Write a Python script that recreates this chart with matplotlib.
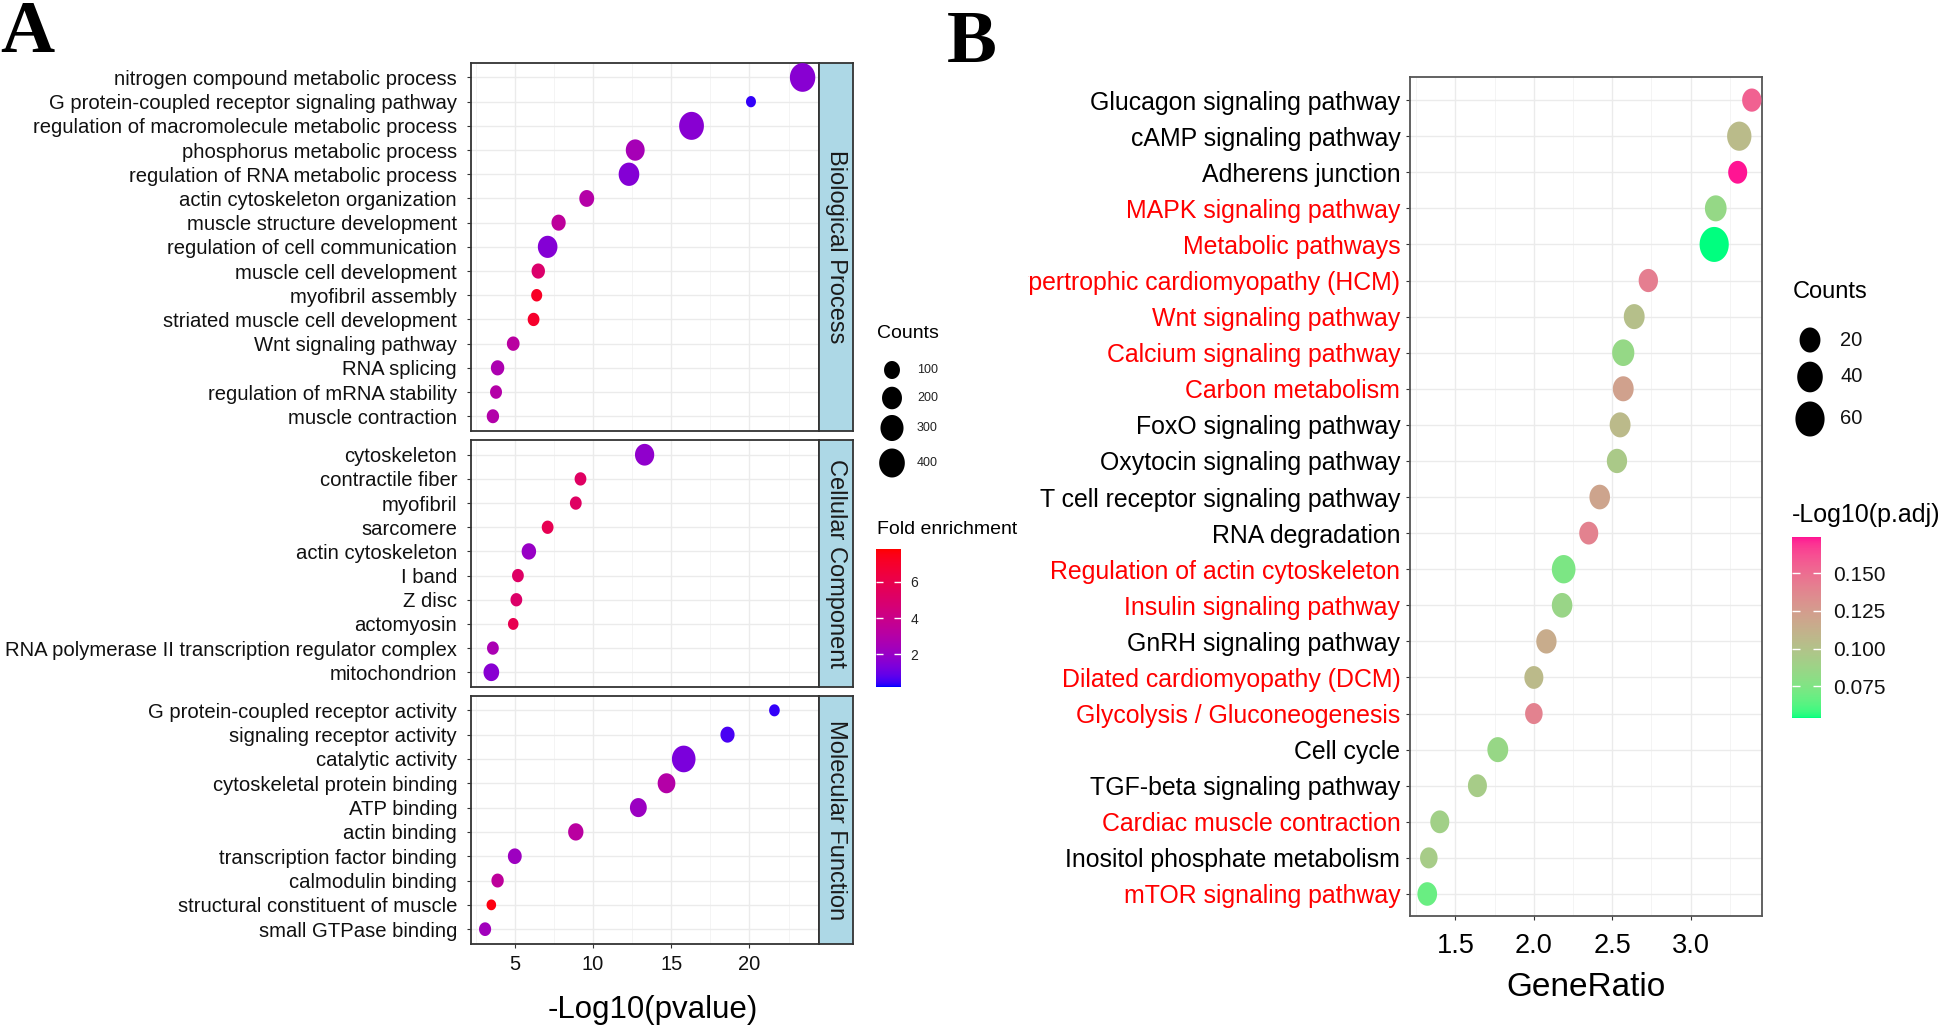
import numpy as np
import matplotlib
matplotlib.use("Agg")
import matplotlib.pyplot as plt
import matplotlib.cm as cm
from matplotlib import font_manager as fm
from matplotlib.colors import ListedColormap, Normalize
from matplotlib.path import Path
from matplotlib.transforms import Bbox, TransformedBbox

# ---------------- Data: panel A (GO enrichment) ----------------
bp_terms = ["nitrogen compound metabolic process", "G protein-coupled receptor signaling pathway",
            "regulation of macromolecule metabolic process", "phosphorus metabolic process",
            "regulation of RNA metabolic process", "actin cytoskeleton organization",
            "muscle structure development", "regulation of cell communication",
            "muscle cell development", "myofibril assembly", "striated muscle cell development",
            "Wnt signaling pathway", "RNA splicing", "regulation of mRNA stability", "muscle contraction"]
bp_logp = [23.4, 20.1, 16.3, 12.7, 12.3, 9.6, 7.8, 7.1, 6.5, 6.4, 6.2, 4.9, 3.9, 3.8, 3.6]
bp_counts = [390, 15, 365, 170, 220, 80, 68, 190, 55, 25, 33, 45, 55, 35, 40]
bp_fold = [1.6, 0.35, 1.6, 2.5, 1.5, 3.0, 3.4, 1.5, 5.0, 7.2, 7.0, 3.2, 2.7, 3.0, 2.9]

cc_terms = ["cytoskeleton", "contractile fiber", "myofibril", "sarcomere", "actin cytoskeleton",
            "I band", "Z disc", "actomyosin", "RNA polymerase II transcription regulator complex",
            "mitochondrion"]
cc_logp = [13.3, 9.2, 8.9, 7.1, 5.9, 5.2, 5.1, 4.9, 3.6, 3.5]
cc_counts = [180, 33, 33, 33, 72, 33, 33, 20, 33, 95]
cc_fold = [1.8, 5.3, 5.3, 5.8, 2.0, 5.2, 5.1, 5.9, 2.6, 1.6]

mf_terms = ["G protein-coupled receptor activity", "signaling receptor activity", "catalytic activity",
            "cytoskeletal protein binding", "ATP binding", "actin binding",
            "transcription factor binding", "calmodulin binding",
            "structural constituent of muscle", "small GTPase binding"]
mf_logp = [21.6, 18.6, 15.8, 14.7, 12.9, 8.9, 5.0, 3.9, 3.5, 3.1]
mf_counts = [21, 67, 320, 140, 120, 88, 62, 40, 12, 37]
mf_fold = [0.35, 0.55, 1.3, 3.0, 2.1, 3.2, 2.2, 3.4, 7.6, 2.3]

go_categories = ["Biological Process", "Cellular Component", "Molecular Function"]
count_breaks_a = [100, 200, 300, 400]
fold_ticks = [2, 4, 6]
pvalue_ticks = [5, 10, 15, 20]

# ---------------- Data: panel B (KEGG enrichment) ----------------
kegg_terms = ["Glucagon signaling pathway", "cAMP signaling pathway", "Adherens junction",
              "MAPK signaling pathway", "Metabolic pathways", "Hypertrophic cardiomyopathy (HCM)",
              "Wnt signaling pathway", "Calcium signaling pathway", "Carbon metabolism",
              "FoxO signaling pathway", "Oxytocin signaling pathway", "T cell receptor signaling pathway",
              "RNA degradation", "Regulation of actin cytoskeleton", "Insulin signaling pathway",
              "GnRH signaling pathway", "Dilated cardiomyopathy (DCM)", "Glycolysis / Gluconeogenesis",
              "Cell cycle", "TGF-beta signaling pathway", "Cardiac muscle contraction",
              "Inositol phosphate metabolism", "mTOR signaling pathway"]
kegg_ratio = [3.39, 3.31, 3.30, 3.16, 3.15, 2.73, 2.64, 2.57, 2.57, 2.55, 2.53, 2.42, 2.35,
              2.19, 2.18, 2.08, 2.00, 2.00, 1.77, 1.64, 1.40, 1.33, 1.32]
kegg_counts = [15, 34, 14, 23, 60, 15, 20, 25, 20, 20, 18, 19, 14, 31, 19, 18, 14, 10, 20, 14, 14, 10, 16]
kegg_padj = [0.155, 0.105, 0.174, 0.084, 0.054, 0.142, 0.102, 0.084, 0.122, 0.106, 0.095, 0.120,
             0.140, 0.074, 0.086, 0.115, 0.106, 0.140, 0.085, 0.093, 0.090, 0.093, 0.068]
kegg_highlight = [False, False, False, True, True, True, True, True, True, False, False, False,
                  False, True, True, False, True, True, False, False, True, False, True]
ratio_ticks = [1.5, 2.0, 2.5, 3.0]
count_breaks_b = [20, 40, 60]
padj_ticks = [0.075, 0.100, 0.125, 0.150]

# ---------------- Fonts ----------------
def has_font(name):
    try:
        fm.findfont(fm.FontProperties(family=name), fallback_to_default=False)
        return True
    except Exception:
        return False

NARROW = has_font("Liberation Sans Narrow")
REG = ["Liberation Sans", "DejaVu Sans"]
NAR = ["Liberation Sans Narrow", "Liberation Sans", "DejaVu Sans"] if NARROW else REG
plt.rcParams["font.family"] = REG

def nsz(narrow_size, regular_size):
    return narrow_size if NARROW else regular_size

# ---------------- Colour scales (Lab interpolation like ggplot) ----------------
def _srgb_to_lab(hexc):
    c = np.array([int(hexc[i:i + 2], 16) / 255 for i in (1, 3, 5)])
    lin = np.where(c <= 0.04045, c / 12.92, ((c + 0.055) / 1.055) ** 2.4)
    M = np.array([[0.4124, 0.3576, 0.1805], [0.2126, 0.7152, 0.0722], [0.0193, 0.1192, 0.9505]])
    xyz = M @ lin / np.array([0.95047, 1.0, 1.08883])
    f = np.where(xyz > 0.008856, np.cbrt(xyz), 7.787 * xyz + 16 / 116)
    return np.array([116 * f[1] - 16, 500 * (f[0] - f[1]), 200 * (f[1] - f[2])])

def _lab_to_srgb(lab):
    L, a, b = lab
    fy = (L + 16) / 116
    fx = fy + a / 500
    fz = fy - b / 200
    f = np.array([fx, fy, fz])
    xyz = np.where(f ** 3 > 0.008856, f ** 3, (f - 16 / 116) / 7.787) * np.array([0.95047, 1.0, 1.08883])
    Mi = np.array([[3.2406, -1.5372, -0.4986], [-0.9689, 1.8758, 0.0415], [0.0557, -0.2040, 1.0570]])
    lin = np.clip(Mi @ xyz, 0, 1)
    c = np.where(lin <= 0.0031308, 12.92 * lin, 1.055 * lin ** (1 / 2.4) - 0.055)
    return np.clip(c, 0, 1)

def lab_cmap(low, high, n=256):
    l0, l1 = _srgb_to_lab(low), _srgb_to_lab(high)
    return ListedColormap([_lab_to_srgb(l0 + (l1 - l0) * t) for t in np.linspace(0, 1, n)])

cmap_a = lab_cmap("#0000FF", "#FF0000")
norm_a = Normalize(0.17, 7.83)
cmap_b = lab_cmap("#00FF7F", "#FF1493")
norm_b = Normalize(0.054, 0.174)

# elliptical markers (the original figure is slightly squeezed horizontally)
def ellipse_marker(aspect):
    t = np.linspace(0, 2 * np.pi, 73)
    return Path(np.column_stack([np.cos(t) / aspect, np.sin(t)]), closed=True)

mk_a = ellipse_marker(1.13)
mk_b = ellipse_marker(1.2)

def size_a(c):
    return ((7 + 1.1 * np.sqrt(np.asarray(c, float))) * 0.72) ** 2

def size_b(c):
    return ((11.4 + 3.05 * np.sqrt(np.asarray(c, float))) * 0.72) ** 2

# ---------------- Figure ----------------
W, H = 1944, 1035
fig = plt.figure(figsize=(W / 100, H / 100), dpi=100)

def fbox(x0, y0, x1, y1):
    return [x0 / W, 1 - y1 / H, (x1 - x0) / W, (y1 - y0) / H]

def fpt(x, y):
    return (x / W, 1 - y / H)

BORDER = "#333333"
GRID = "#EBEBEB"
GRID_MINOR = "#F3F3F3"

# ---- Panel A facets ----
facets = [
    (go_categories[0], bp_terms, bp_logp, bp_counts, bp_fold, 62.7, 431.0),
    (go_categories[1], cc_terms, cc_logp, cc_counts, cc_fold, 440.0, 687.0),
    (go_categories[2], mf_terms, mf_logp, mf_counts, mf_fold, 695.5, 944.0),
]
for k, (cat, terms, logp, counts, fold, top, bot) in enumerate(facets):
    ax = fig.add_axes(fbox(471, top, 819, bot))
    n = len(terms)
    ypos = np.arange(n)[::-1]
    ax.scatter(logp, ypos, s=size_a(counts), c=fold, cmap=cmap_a, norm=norm_a,
               marker=mk_a, linewidths=0, zorder=3)
    ax.set_xlim(2.2, 24.45)
    ax.set_ylim(-0.61, n - 1 + 0.61)
    ax.set_yticks(ypos)
    ax.set_yticklabels(terms, fontsize=14.6, color="#111111")
    ax.set_xticks(pvalue_ticks)
    ax.set_xticks(np.arange(2.5, 24, 5), minor=True)
    ax.set_axisbelow(True)
    ax.grid(which="major", color=GRID, lw=1.0)
    ax.grid(which="minor", axis="x", color=GRID_MINOR, lw=0.6)
    for sp in ax.spines.values():
        sp.set_color(BORDER)
        sp.set_linewidth(1.3)
    ax.tick_params(axis="y", length=3, width=0.8, color=BORDER, pad=7)
    ax.tick_params(axis="x", which="minor", length=0)
    if k == len(facets) - 1:
        ax.tick_params(axis="x", which="major", length=3, width=0.8, color=BORDER, pad=5,
                       labelsize=nsz(17, 14.5))
        for lab in ax.get_xticklabels():
            lab.set_family(NAR)
            lab.set_color("#111111")
    else:
        ax.tick_params(axis="x", which="major", length=0, labelbottom=False)
    # facet strip
    sax = fig.add_axes(fbox(819, top, 853, bot))
    sax.set_facecolor("#ADD8E6")
    sax.set_xticks([])
    sax.set_yticks([])
    for sp in sax.spines.values():
        sp.set_color(BORDER)
        sp.set_linewidth(1.3)
    sax.text(0.5, 0.5, cat, rotation=-90, ha="center", va="center", fontsize=17,
             color="#1A1A1A", transform=sax.transAxes)

fig.text(*fpt(653, 1010), "-Log10(pvalue)", ha="center", va="center",
         fontsize=nsz(26.5, 22.5), family=NAR, color="black")

# ---- Panel A legends ----
fig.text(*fpt(877, 334), "Counts", ha="left", va="center", fontsize=14, color="black")
ov = fig.add_axes([0, 0, 1, 1], facecolor="none")
ov.set_xlim(0, W)
ov.set_ylim(H, 0)
ov.axis("off")
key_y_a = [370, 398, 428, 463]
ov.scatter([892] * len(count_breaks_a), key_y_a, s=size_a(count_breaks_a), c="black",
           marker=mk_a, linewidths=0)
for yk, lab in zip(key_y_a, count_breaks_a):
    ov.text(917, yk, str(lab), ha="left", va="center", fontsize=nsz(10.5, 9), family=NAR,
            color="#222222")

fig.text(*fpt(877, 530), "Fold enrichment", ha="left", va="center", fontsize=14, color="black")
cax_a = fig.add_axes(fbox(876, 549, 901, 687))
cb_a = fig.colorbar(cm.ScalarMappable(norm=norm_a, cmap=cmap_a), cax=cax_a)
cb_a.set_ticks(fold_ticks)
cb_a.outline.set_visible(False)
cax_a.tick_params(direction="in", color="white", length=5, width=1, left=True, right=True,
                  labelsize=nsz(12, 10), pad=7, labelcolor="#222222")
for lab in cax_a.get_yticklabels():
    lab.set_family(NAR)

# ---- Panel B ----
axb = fig.add_axes(fbox(1410, 77, 1762, 916))
nb = len(kegg_terms)
yb = np.arange(nb)[::-1]
axb.scatter(kegg_ratio, yb, s=size_b(kegg_counts), c=kegg_padj, cmap=cmap_b, norm=norm_b,
            marker=mk_b, linewidths=0, zorder=3)
axb.set_xlim(1.21, 3.455)
axb.set_ylim(-0.61, nb - 1 + 0.64)
axb.set_yticks(yb)
axb.set_yticklabels(kegg_terms, fontsize=nsz(21.8, 17.9))
axb.set_xticks(ratio_ticks)
axb.set_xticks(np.arange(1.25, 3.4, 0.5), minor=True)
axb.set_xticklabels([f"{v:.1f}" for v in ratio_ticks], fontsize=nsz(23, 19.5))
axb.set_axisbelow(True)
axb.grid(which="major", color=GRID, lw=1.0)
axb.grid(which="minor", axis="x", color=GRID_MINOR, lw=0.6)
for sp in axb.spines.values():
    sp.set_color("#555555")
    sp.set_linewidth(1.3)
axb.tick_params(axis="y", length=3, width=0.8, color=BORDER, pad=4)
axb.tick_params(axis="x", which="major", length=3, width=0.8, color=BORDER, pad=9)
axb.tick_params(axis="x", which="minor", length=0)
clip = TransformedBbox(Bbox([[1027.5 / W, 0], [1, 1]]), fig.transFigure)
for lab, hi in zip(axb.get_yticklabels(), kegg_highlight):
    lab.set_family(NAR)
    lab.set_color("#FF0000" if hi else "black")
    lab.set_clip_box(clip)
    lab.set_clip_on(True)
for lab in axb.get_xticklabels():
    lab.set_family(NAR)
    lab.set_color("black")

fig.text(*fpt(1586, 988), "GeneRatio", ha="center", va="center", fontsize=nsz(28, 24),
         family=NAR, color="black")

# ---- Panel B legends ----
fig.text(*fpt(1793, 292), "Counts", ha="left", va="center", fontsize=nsz(20.5, 17),
         family=NAR, color="black")
key_y_b = [340, 377, 419]
ov.scatter([1810] * len(count_breaks_b), key_y_b, s=size_b(count_breaks_b), c="black",
           marker=mk_b, linewidths=0)
for yk, lab in zip(key_y_b, count_breaks_b):
    ov.text(1840, yk, str(lab), ha="left", va="center", fontsize=nsz(18, 14.5), family=NAR,
            color="#111111")

fig.text(*fpt(1792, 515), "-Log10(p.adj)", ha="left", va="center", fontsize=nsz(21, 18),
         family=NAR, color="black")
cax_b = fig.add_axes(fbox(1792, 537, 1821, 718))
cb_b = fig.colorbar(cm.ScalarMappable(norm=norm_b, cmap=cmap_b), cax=cax_b)
cb_b.set_ticks(padj_ticks)
cb_b.set_ticklabels([f"{v:.3f}" for v in padj_ticks])
cb_b.outline.set_visible(False)
cax_b.tick_params(direction="in", color="white", length=6, width=1, left=True, right=True,
                  labelsize=nsz(18.5, 15), pad=9, labelcolor="#111111")
for lab in cax_b.get_yticklabels():
    lab.set_family(NAR)

# ---- Panel letters ----
fig.text(*fpt(0, 52), "A", ha="left", va="baseline", fontsize=54, fontweight="bold",
         family=["Liberation Serif", "DejaVu Serif"])
fig.text(*fpt(947, 62), "B", ha="left", va="baseline", fontsize=54, fontweight="bold",
         family=["Liberation Serif", "DejaVu Serif"])

fig.savefig("out.png", dpi=100, facecolor="white")
